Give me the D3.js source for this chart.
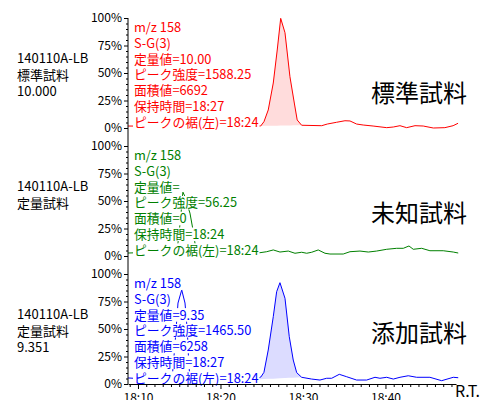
<!DOCTYPE html>
<html>
<head>
<meta charset="utf-8">
<script src="https://cdnjs.cloudflare.com/ajax/libs/d3/7.8.5/d3.min.js"></script>
<style>
  body { margin: 0; background: #fff; }
  svg text { font-family: "Noto Sans CJK JP", "Noto Sans", sans-serif; }
</style>
</head>
<body>
<script>
// sample labels
const sampleIds = ['140110A-LB', '140110A-LB', '140110A-LB']
const sampleTypes = ['標準試料', '定量試料', '定量試料']
const sampleConc = ['10.000', '', '9.351']
const bigLabels = ['標準試料', '未知試料', '添加試料']
const colors = ['#ff0000', '#008000', '#0000ff']
const fills = ['#ffdcdc', 'none', '#dcdcff']

const infoLines = [
  ['m/z 158', 'S-G(3)', '定量値=10.00', 'ピーク強度=1588.25', '面積値=6692', '保持時間=18:27', 'ピークの裾(左)=18:24'],
  ['m/z 158', 'S-G(3)', '定量値=', 'ピーク強度=56.25', '面積値=0', '保持時間=18:24', 'ピークの裾(左)=18:24'],
  ['m/z 158', 'S-G(3)', '定量値=9.35', 'ピーク強度=1465.50', '面積値=6258', '保持時間=18:27', 'ピークの裾(左)=18:24']
]

// retention time (seconds part of 18:xx) and intensity %
const redT = [8.8, 12, 16, 20, 24.18, 24.87, 25.27, 25.79, 26.4, 26.88, 27.3, 27.82, 28.42, 28.95, 29.3, 29.84, 32.27, 32.95, 34.08, 35.09, 35.7, 36.5, 37.3, 38.5, 40.15, 40.95, 41.76, 42.57, 43.58, 44.58, 45.8, 47.2, 48.2, 48.8]
const redP = [1.8, 1.6, 2.0, 1.8, 1.8, 1.8, 5.7, 16.4, 40.9, 70.9, 99.7, 86.6, 46.6, 22.7, 7.3, 2.5, 2.1, 3.6, 5.2, 6.6, 6.4, 3.6, 2.7, 1.8, 0.3, 0.9, 2.1, 0.3, 2.1, 1.8, 0, 0.3, 2.1, 4.3]

const greenT = [8.8, 11, 13, 14.6, 14.85, 15.21, 15.33, 15.45, 15.7, 16.06, 16.3, 16.67, 17.03, 19, 22, 24.18, 24.79, 25.6, 26.4, 27.21, 28.22, 29.03, 29.84, 30.45, 31.06, 31.85, 32.67, 33.27, 34.88, 35.7, 36.91, 37.92, 38.93, 40.15, 41.36, 42.16, 42.85, 43.37, 44.39, 45.39, 47.0, 48.22, 48.82]
const greenP = [2.7, 3.2, 2.5, 3.6, 12, 37, 51, 58, 54, 44.5, 39, 23.6, 5.5, 3.0, 2.8, 2.5, 3.0, 3.9, 5.5, 3.6, 4.5, 2.5, 3.4, 2.5, 3.4, 5.5, 2.5, 1.8, 1.8, 3.9, 4.5, 3.6, 4.5, 6.1, 7.0, 7.0, 9.1, 6.1, 7.0, 4.8, 4.8, 3.6, 2.7]

const blueT = [8.8, 11, 13, 14.12, 14.48, 14.85, 15.3, 15.7, 15.9, 16.06, 16.12, 16.24, 16.55, 18, 20, 22, 24.18, 24.9, 25.27, 25.79, 26.4, 26.81, 27.21, 27.82, 28.34, 28.82, 29.24, 29.84, 31.05, 32.06, 32.87, 33.48, 34.4, 35.3, 36.5, 37.72, 38.73, 39.33, 40.15, 40.95, 41.76, 42.76, 43.78, 45.39, 46.81, 48.22, 48.82]
const blueP = [5.5, 4.5, 4.0, 3.6, 35.5, 73.6, 85.5, 73.6, 55.5, 37.3, 23.6, 10.9, 4.5, 4.0, 4.5, 4.0, 4.1, 6.4, 10.6, 30.9, 61.2, 83.9, 92.1, 77.9, 43, 21.8, 10.3, 6.1, 4.5, 3.6, 5.2, 5.2, 8.8, 6.6, 3.6, 3.6, 6.1, 5.2, 6.1, 4.5, 6.1, 7.5, 6.1, 6.1, 3.0, 6.1, 5.7]

// integrated peak window (left / right foot)
const peakStart = [24.18, null, 24.18]
const peakEnd = [29.84, null, 29.84]

const xTicks = [10, 20, 30, 40]
const yTicks = [0, 25, 50, 75, 100]

const series = [
  redT.map((t, i) => ({ t: t, p: redP[i] })),
  greenT.map((t, i) => ({ t: t, p: greenP[i] })),
  blueT.map((t, i) => ({ t: t, p: blueP[i] }))
]

const width = 485
const height = 400
const svg = d3.select('body').append('svg').attr('width', width).attr('height', height)

const x = d3.scaleLinear().domain([8.79, 48.55]).range([128, 456])
const ys = [0, 1, 2].map(i => d3.scaleLinear().domain([0, 100]).range([128 + i * 128, 18 + i * 128]))

series.forEach((data, i) => {
  const y = ys[i]
  const top = y(100)

  // y axis, major + minor
  const gy = svg.append('g').attr('transform', 'translate(128,0)')
    .call(d3.axisLeft(y).tickValues(yTicks).tickFormat(d => d + '%').tickSize(4).tickSizeOuter(0).tickPadding(2))
  gy.select('.domain').remove()
  gy.selectAll('text').attr('font-size', 12).attr('fill', '#000')
  const gm = svg.append('g').attr('transform', 'translate(128,0)')
    .call(d3.axisLeft(y).tickValues(d3.range(5, 100, 5).filter(v => v % 25)).tickSize(2).tickFormat(''))
  gm.select('.domain').remove()

  // peak shading
  if (peakStart[i] != null) {
    const pk = data.filter(d => d.t >= peakStart[i] && d.t <= peakEnd[i])
    const b0 = pk[0].p, b1 = pk[pk.length - 1].p
    const base = t => b0 + (b1 - b0) * (t - peakStart[i]) / (peakEnd[i] - peakStart[i])
    svg.append('path')
      .attr('d', d3.area().x(d => x(d.t)).y0(d => y(base(d.t))).y1(d => y(d.p))(pk))
      .style('fill', fills[i])
      .style('stroke', 'none')
  }

  svg.append('path')
    .attr('d', d3.line().x(d => x(d.t)).y(d => y(d.p))(data))
    .style('fill', 'none')
    .style('stroke', colors[i])
    .style('stroke-width', '1px')

  // info text with white boxes
  infoLines[i].forEach((s, j) => {
    const by = top + 14 + j * 15.8
    const r = svg.append('rect').attr('fill', '#fff')
    const t = svg.append('text').attr('x', 134).attr('y', by)
      .attr('font-size', 12.8).attr('fill', colors[i]).text(s)
    const w = t.node().getComputedTextLength()
    r.attr('x', 133).attr('y', by - 11.5).attr('width', w + 2).attr('height', 13.6)
  })

  // left sample labels
  const left = [sampleIds[i], sampleTypes[i], sampleConc[i]].filter(s => s)
  left.forEach((s, j) => {
    svg.append('text').attr('x', 17).attr('y', top + 45 + j * 16.5)
      .attr('font-size', 13).attr('fill', '#000').text(s)
  })
})

// big sample type labels
const bigY = [102, 222, 342]
bigLabels.forEach((s, i) => {
  svg.append('text').attr('x', 419).attr('y', bigY[i]).attr('text-anchor', 'middle')
    .attr('font-size', 24).attr('fill', '#000').text(s)
})

// continuous y axis line
svg.append('line')
  .attr('x1', 128).attr('x2', 128)
  .attr('y1', ys[0](100)).attr('y2', ys[2](0))
  .style('stroke', '#000')

// x axis
const gx = svg.append('g').attr('transform', 'translate(0,' + ys[2](0) + ')')
  .call(d3.axisBottom(x).tickValues(xTicks).tickFormat(d => '18:' + d).tickSize(5).tickSizeOuter(0).tickPadding(4))
gx.selectAll('text').attr('font-size', 12).attr('fill', '#000')
svg.append('g').attr('transform', 'translate(0,' + ys[2](0) + ')')
  .call(d3.axisBottom(x).tickValues(d3.range(9, 49).filter(v => v % 10)).tickSize(3).tickFormat(''))
  .select('.domain').remove()

svg.append('text').attr('x', 455).attr('y', 397).attr('font-size', 16).attr('fill', '#000').text('R.T.')
</script>
</body>
</html>
